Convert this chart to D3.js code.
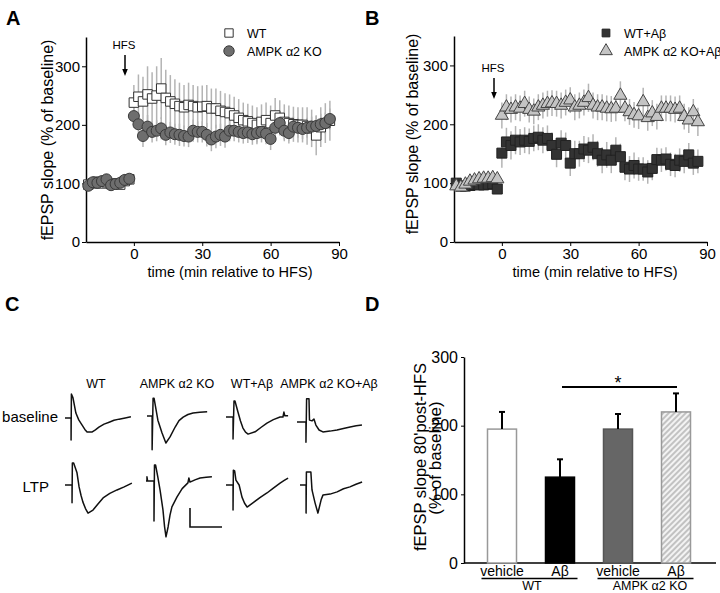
<!DOCTYPE html>
<html><head><meta charset="utf-8">
<script src="https://cdn.jsdelivr.net/npm/d3@7"></script>
<style>body{margin:0;background:#fff} svg{display:block;font-family:"Liberation Sans",Arial,Helvetica,sans-serif}</style>
</head><body><svg id="c" width="720" height="593"></svg>
<script>
// ---------------- DATA ----------------
const timesMin = [-20,-18,-16,-14,-12,-10,-8,-6,-4,-2,
  0,2,4,6,8,10,12,14,16,18,20,22,24,26,28,30,32,34,36,38,40,42,44,46,48,50,52,54,56,58,60,62,64,66,68,70,72,74,76,78,80,82,84,86];
const xTicksA = [0,30,60,90];
const yTicksA = [0,100,200,300];

// Panel A
const wtA = [98,100,103,100,102,99,100,98,104,107,
  238,248,240,252,245,250,262,246,240,236,232,230,234,232,230,231,232,228,
  228,224,222,220,216,212,208,206,203,200,205,208,203,216,212,205,203,201,200,200,198,194,182,196,203,207];
const wtAerr = [6,6,7,6,6,7,6,6,7,6,
  30,38,42,48,45,50,52,48,45,42,40,38,38,36,36,36,36,34,
  34,34,32,32,32,32,30,30,30,30,30,30,30,30,30,30,30,30,30,30,32,32,34,34,34,34];
const koA = [96,102,101,104,107,97,99,101,106,108,
  215,201,181,197,188,190,194,183,187,184,183,181,180,190,188,188,183,175,
  180,183,180,190,190,188,186,187,184,186,188,185,176,195,203,190,186,197,195,193,195,197,198,201,203,210];
const koAerr = [7,7,6,7,7,6,7,7,6,7,
  20,20,19,20,18,18,19,18,18,18,19,18,18,19,18,18,20,20,
  20,19,19,18,18,18,18,18,18,19,18,18,19,18,18,18,18,17,17,17,17,17,18,18,18,18];
const seriesNamesA = ["WT","AMPK \u03b12 KO"];

// Panel B
const wtAbB = [100,95,95,96,98,97,97,98,99,90,
  151,170,164,173,170,173,171,176,178,173,176,164,149,168,164,134,150,150,
  158,156,161,150,139,148,139,156,145,127,124,130,124,124,119,125,140,139,141,132,130,139,137,148,134,137];
const wtAbBerr = [8,8,8,8,8,8,8,8,8,8,
  25,24,24,24,22,22,22,22,22,22,22,22,22,22,22,22,22,22,
  22,22,22,22,22,22,22,22,22,22,22,22,20,20,20,20,20,20,20,20,20,20,20,20,20,20];
const koAbB = [95,93,98,103,105,107,108,108,109,107,
  215,229,225,229,227,235,225,222,229,232,235,236,235,232,237,241,229,232,
  237,245,232,229,229,227,226,227,249,227,221,216,214,238,211,219,213,227,227,227,225,227,213,207,221,204];
const koAbBerr = [7,7,7,7,7,7,7,7,7,7,
  22,22,22,22,22,22,22,22,22,22,22,22,22,22,22,22,22,22,
  22,24,22,22,22,22,22,22,24,22,22,22,22,24,22,22,22,22,22,22,22,22,22,22,22,24];
const seriesNamesB = ["WT+A\u03b2","AMPK \u03b12 KO+A\u03b2"];

// Panel C traces: [time ms, mV]
const traceCols = ["WT","AMPK \u03b12 KO","WT+A\u03b2","AMPK \u03b12 KO+A\u03b2"];
const traceRows = ["baseline","LTP"];
const trWTbase = [[0,0],[1.9,0],[1.9,-0.58],[2.0,0.63],[2.5,0.53],[3.4,0.13],[4.3,-0.05],[5.3,-0.18],[6.2,-0.3],[6.9,-0.37],[8.4,-0.37],[9.5,-0.31],[10.6,-0.24],[12.2,-0.16],[13.8,-0.11],[15.3,-0.06],[16.9,-0.03],[18.8,0.0],[20.6,0.03]];
const trKObase = [[0,0],[1.6,0],[1.6,-0.89],[1.9,0.47],[2.2,0.47],[3.4,-0.11],[4.7,-0.45],[5.9,-0.71],[7.2,-0.55],[8.8,-0.29],[10.0,-0.12],[11.3,-0.03],[12.8,0.04],[14.4,0.08],[16.5,0.1],[18.8,0.11]];
const trWTAbbase = [[0,0],[2.2,0],[2.2,-0.58],[2.5,0.42],[2.8,0.42],[3.8,0.11],[4.5,-0.1],[5.3,-0.29],[6.1,-0.4],[6.9,-0.45],[9.1,-0.39],[11.0,-0.27],[12.8,-0.16],[14.8,-0.07],[16.9,0],[17.8,0],[18.1,0.13],[18.4,0.03],[19.4,0.03]];
const trKOAbbase = [[0,0],[2.8,0],[2.8,-0.53],[3.0,0.61],[3.75,0.61],[3.9,0.05],[4.7,0.03],[5.3,0.08],[5.9,-0.08],[6.9,-0.21],[8.1,-0.26],[10.3,-0.24],[12.5,-0.21],[14.5,-0.17],[16.6,-0.13],[18.5,-0.1],[20.3,-0.08]];
const trWTltp = [[0,0],[2.2,0],[2.2,-0.47],[2.3,0.58],[2.7,0.58],[3.75,0.32],[4.4,-0.05],[5.0,-0.27],[5.6,-0.45],[6.4,-0.62],[7.2,-0.74],[8.75,-0.66],[10.3,-0.5],[11.9,-0.34],[14.0,-0.22],[16.25,-0.13],[18.5,-0.05],[20.9,0.05]];
const trKOltp = [[0,0],[0.3,0],[0.3,0.11],[0.5,0],[2.5,0],[2.5,-1.05],[2.65,0.42],[3.0,0.42],[3.7,0.1],[4.4,-0.24],[5.3,-0.76],[5.8,-1.2],[6.25,-1.47],[6.9,-1.21],[7.5,-0.9],[8.1,-0.68],[9.7,-0.42],[11.3,-0.2],[13.1,-0.05],[13.4,0.08],[13.75,-0.03],[15.3,0.03],[16.9,0.08],[18.8,0.1],[20.6,0.11]];
const trWTAbltp = [[0,0],[2.2,0],[2.2,-0.66],[2.3,0.39],[2.7,0.37],[3.1,0.13],[4.1,0],[5.0,-0.32],[5.8,-0.48],[6.6,-0.58],[8.4,-0.47],[10.6,-0.33],[12.8,-0.21],[14.8,-0.08],[16.9,0.05],[18.2,0.12],[19.4,0.18]];
const trKOAbltp = [[0,0],[1.9,0],[1.9,-0.74],[2.0,0.34],[3.4,0.34],[3.75,-0.13],[4.7,-0.47],[5.6,-0.74],[6.6,-0.39],[7.2,-0.26],[9.4,-0.24],[11.6,-0.18],[13.6,-0.1],[15.6,-0.05],[17.5,0.02],[19.4,0.08]];
const tracesData = [trWTbase,trKObase,trWTAbbase,trKOAbbase,trWTltp,trKOltp,trWTAbltp,trKOAbltp];
const scaleBarMs = 10, scaleBarMV = 0.5;

// Panel D
const barCats = ["vehicle","A\u03b2","vehicle","A\u03b2"];
const barGroups = ["WT","AMPK \u03b12 KO"];
const barVals = [195,125,195,220];
const barErrs = [25,26,22,27];
const yTicksD = [0,100,200,300];

// ---------------- DRAW ----------------
const svg = d3.select("#c");
const defs = svg.append("defs");
const pat = defs.append("pattern").attr("id","hatch").attr("patternUnits","userSpaceOnUse")
  .attr("width",4).attr("height",4).attr("patternTransform","rotate(45)");
pat.append("rect").attr("width",4).attr("height",4).attr("fill","#f3f3f3");
pat.append("line").attr("x1",1).attr("y1",0).attr("x2",1).attr("y2",4).attr("stroke","#a8a8a8").attr("stroke-width",1.3);

function panelLabel(t,x,y){
  svg.append("text").attr("x",x).attr("y",y).attr("font-size",20).attr("font-weight","bold").text(t);
}
panelLabel("A",6,25); panelLabel("B",365,25); panelLabel("C",5,311); panelLabel("D",365,311);

function timeCourse(o){
  const x = d3.scaleLinear().domain([-21,90]).range([o.x0,o.x1]);
  const y = d3.scaleLinear().domain([0,350]).range([242,o.yTop]);
  const g = svg.append("g");
  // axes
  const ya = g.append("g").attr("transform",`translate(${o.x0},0)`)
    .call(d3.axisLeft(y).tickValues(yTicksA).tickSize(4).tickSizeOuter(0));
  ya.select(".domain").attr("stroke-width",1.5);
  ya.selectAll("text").attr("font-size",15).attr("font-family","inherit").attr("dx",1);
  const xa = g.append("g").attr("transform","translate(0,242)")
    .call(d3.axisBottom(x).tickValues(xTicksA).tickSize(4).tickSizeOuter(0));
  xa.select(".domain").attr("stroke-width",1.5);
  xa.selectAll("text").attr("font-size",15).attr("font-family","inherit").attr("dy","0.68em");
  g.append("text").attr("x",o.xtitle).attr("y",277).attr("text-anchor","middle").attr("font-size",15)
    .attr("textLength",165).attr("lengthAdjust","spacingAndGlyphs").text("time (min relative to HFS)");
  g.append("text").attr("transform",`translate(${o.ytitleX},${o.ytitleY}) rotate(-90)`).attr("text-anchor","middle")
    .attr("font-size",16).text("fEPSP slope (% of baseline)");
  // HFS
  g.append("text").attr("x",o.hfsX).attr("y",o.hfsY).attr("text-anchor","middle").attr("font-size",11.5).text("HFS");
  const ax = o.hfsX+1, a1 = o.hfsY+6, a2 = o.hfsY+27;
  g.append("line").attr("x1",ax).attr("x2",ax).attr("y1",a1).attr("y2",a2-5).attr("stroke","#000").attr("stroke-width",1.5);
  g.append("path").attr("d",`M${ax-2.8},${a2-7}L${ax+2.8},${a2-7}L${ax},${a2}Z`).attr("fill","#000");
  // error bars
  o.series.forEach((s)=>{
    g.append("g").selectAll("line").data(timesMin).join("line")
      .attr("x1",t=>x(t)).attr("x2",t=>x(t))
      .attr("y1",(t,i)=>y(s.v[i]-s.e[i])).attr("y2",(t,i)=>y(s.v[i]+s.e[i]))
      .attr("stroke","#b4b4b4").attr("stroke-width",1.5);
  });
  o.series.forEach((s)=>{
    g.append("g").selectAll("path").data(timesMin).join("path")
      .attr("transform",(t,i)=>`translate(${x(t)},${y(s.v[i])})`)
      .attr("d",d3.symbol(s.sym,s.size)()).attr("fill",s.fill).attr("stroke",s.stroke).attr("stroke-width",1);
  });
  // legend
  o.series.forEach((s,i)=>{
    const ly = 33+18*i;
    g.append("path").attr("transform",`translate(${o.legX},${ly})`).attr("d",d3.symbol(s.sym,s.lsize||s.size)())
      .attr("fill",s.fill).attr("stroke",s.stroke);
    g.append("text").attr("x",o.legX+18).attr("y",ly+4.5).attr("font-size",12.5).text(s.name);
  });
}

timeCourse({x0:86,x1:339,yTop:37,xtitle:230,ytitleX:53,ytitleY:140,hfsX:124,hfsY:49,legX:229,
  series:[
    {name:seriesNamesA[0],v:wtA,e:wtAerr,sym:d3.symbolSquare,size:90,lsize:70,fill:"#fff",stroke:"#333"},
    {name:seriesNamesA[1],v:koA,e:koAerr,sym:d3.symbolCircle,size:95,lsize:85,fill:"#6e6e6e",stroke:"#3a3a3a"}
  ]});
timeCourse({x0:454,x1:707,yTop:36,xtitle:595,ytitleX:418,ytitleY:134,hfsX:493,hfsY:72,legX:606,
  series:[
    {name:seriesNamesB[0],v:wtAbB,e:wtAbBerr,sym:d3.symbolSquare,size:100,lsize:60,fill:"#333",stroke:"#222"},
    {name:seriesNamesB[1],v:koAbB,e:koAbBerr,sym:d3.symbolTriangle,size:75,lsize:70,fill:"#c4c4c4",stroke:"#444"}
  ]});

// ---- Panel C ----
const tx = d3.scaleLinear().domain([0,10]).range([0,32]);
const vy = d3.scaleLinear().domain([0,0.5]).range([0,-19]);
const origins = [[65,418],[147,416],[226,417],[297,422],[65,485],[146,481],[226,485],[300,485]];
const line = d3.line().x(d=>tx(d[0])).y(d=>vy(d[1]));
tracesData.forEach((tr,i)=>{
  svg.append("path").attr("transform",`translate(${origins[i][0]},${origins[i][1]})`)
    .attr("d",line(tr)).attr("fill","none").attr("stroke","#111").attr("stroke-width",1.5).attr("stroke-linejoin","round");
});
const colCenters = [96,177,252,329];
traceCols.forEach((c,i)=>svg.append("text").attr("x",colCenters[i]).attr("y",388).attr("text-anchor","middle").attr("font-size",12.5).text(c));
svg.append("text").attr("x",58).attr("y",422).attr("text-anchor","end").attr("font-size",15).text(traceRows[0]);
svg.append("text").attr("x",49).attr("y",492).attr("text-anchor","end").attr("font-size",15).text(traceRows[1]);
// scale bar
svg.append("path").attr("transform","translate(190,527)")
  .attr("d",`M0,${vy(scaleBarMV)}L0,0L${tx(scaleBarMs)},0`).attr("fill","none").attr("stroke","#111").attr("stroke-width",1.6);

// ---- Panel D ----
const yD = d3.scaleLinear().domain([0,300]).range([563,357]);
const xD = d3.scaleBand().domain(d3.range(barVals.length)).range([473,705]).paddingInner(0.5).paddingOuter(0.25);
const gD = svg.append("g");
const yaD = gD.append("g").attr("transform","translate(464,0)").call(d3.axisLeft(yD).tickValues(yTicksD).tickSize(3).tickSizeOuter(0));
yaD.select(".domain").attr("stroke-width",1.5);
yaD.selectAll("text").attr("font-size",16).attr("font-family","inherit");
gD.append("line").attr("x1",464).attr("x2",716).attr("y1",563).attr("y2",563).attr("stroke","#000").attr("stroke-width",1.5);
const fills = ["#fff","#000","#666","url(#hatch)"];
const strokes = ["#999","#000","#555","#999"];
gD.selectAll("rect.bar").data(barVals).join("rect").attr("class","bar")
  .attr("x",(d,i)=>xD(i)).attr("width",xD.bandwidth()).attr("y",d=>yD(d)).attr("height",d=>563-yD(d))
  .attr("fill",(d,i)=>fills[i]).attr("stroke",(d,i)=>strokes[i]).attr("stroke-width",1.5);
barVals.forEach((v,i)=>{
  const cx = xD(i)+xD.bandwidth()/2;
  gD.append("line").attr("x1",cx).attr("x2",cx).attr("y1",yD(v)).attr("y2",yD(v+barErrs[i])).attr("stroke","#000").attr("stroke-width",2);
  gD.append("line").attr("x1",cx-3).attr("x2",cx+3).attr("y1",yD(v+barErrs[i])).attr("y2",yD(v+barErrs[i])).attr("stroke","#000").attr("stroke-width",2);
  gD.append("text").attr("x",cx).attr("y",576).attr("text-anchor","middle").attr("font-size",14).text(barCats[i]);
});
// group underlines
[[0,1],[2,3]].forEach((p,gi)=>{
  const a = xD(p[0])-6, b = xD(p[1])+xD.bandwidth()+3;
  gD.append("line").attr("x1",a).attr("x2",b).attr("y1",578.5).attr("y2",578.5).attr("stroke","#000").attr("stroke-width",1.5);
  gD.append("text").attr("x",gi===0?532:650).attr("y",590).attr("text-anchor","middle").attr("font-size",12.5).text(barGroups[gi]);
});
// significance
const sA = xD(1)+xD.bandwidth()/2, sB = xD(3)+xD.bandwidth()/2;
gD.append("line").attr("x1",sA+2).attr("x2",sB+1).attr("y1",387).attr("y2",387).attr("stroke","#000").attr("stroke-width",2);
gD.append("text").attr("x",(sA+sB)/2).attr("y",389).attr("text-anchor","middle").attr("font-size",18).text("*");
// y title
gD.append("text").attr("transform","translate(426,457) rotate(-90)").attr("text-anchor","middle").attr("font-size",16.5).text("fEPSP slope 80'post-HFS");
gD.append("text").attr("transform","translate(441,458) rotate(-90)").attr("text-anchor","middle").attr("font-size",17).text("(% of baseline)");
</script></body></html>
